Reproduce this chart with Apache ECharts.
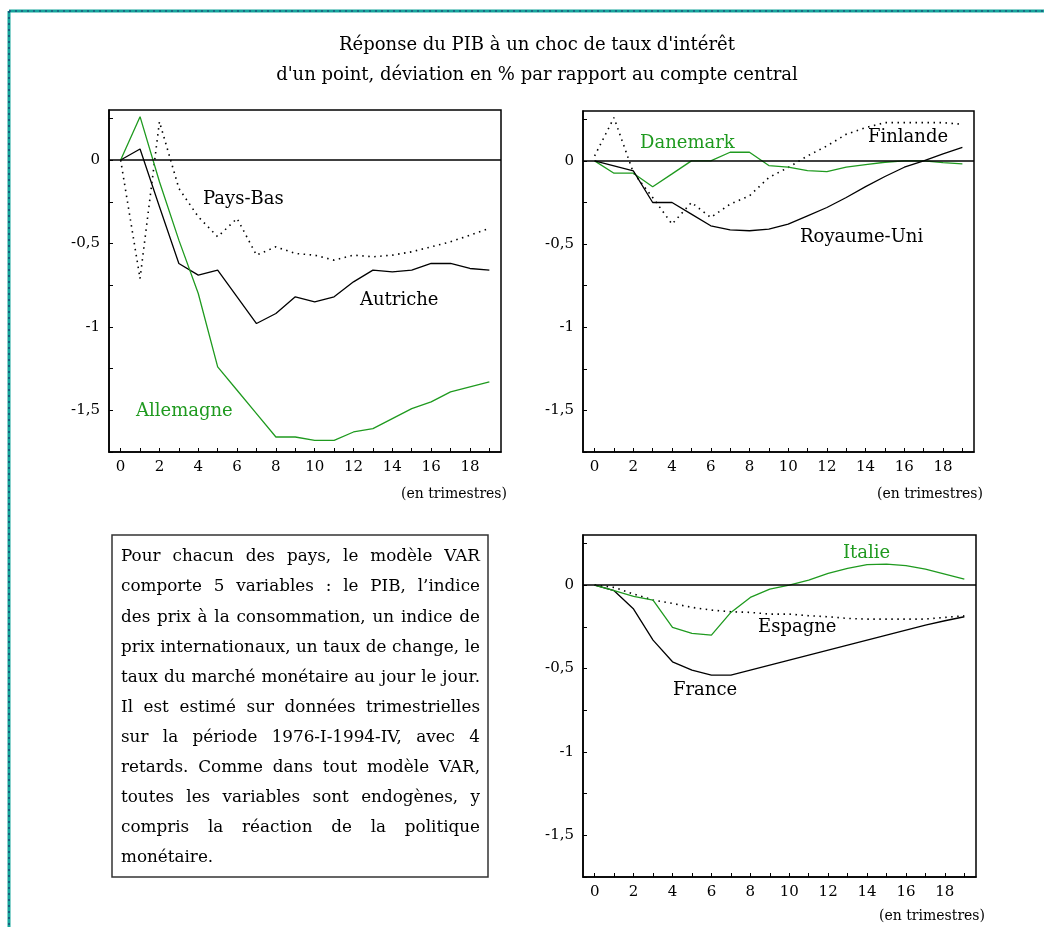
<!DOCTYPE html>
<html>
<head>
<meta charset="utf-8">
<title>Réponse du PIB à un choc de taux d'intérêt</title>
<script src="https://cdn.jsdelivr.net/npm/echarts@6/dist/echarts.min.js"></script>
<style>
html,body{margin:0;padding:0;background:#fff;}
#main{width:1044px;height:927px;}
</style>
</head>
<body>
<div id="main"></div>
<script>
// quarters after the shock (en trimestres)
var quarters = [0,1,2,3,4,5,6,7,8,9,10,11,12,13,14,15,16,17,18,19];

// top left panel
var allemagne = [0, 0.26, -0.13, -0.48, -0.8, -1.24, -1.38, -1.52, -1.66, -1.66, -1.68, -1.68, -1.63, -1.61, -1.55, -1.49, -1.45, -1.39, -1.36, -1.33];
var autriche = [0, 0.066, -0.28, -0.62, -0.69, -0.66, -0.82, -0.98, -0.92, -0.82, -0.85, -0.82, -0.73, -0.66, -0.67, -0.66, -0.62, -0.62, -0.65, -0.66];
var paysBas = [0, -0.71, 0.23, -0.17, -0.34, -0.46, -0.35, -0.57, -0.52, -0.56, -0.57, -0.6, -0.57, -0.58, -0.57, -0.55, -0.52, -0.49, -0.45, -0.41];

// top right panel
var royaumeUni = [0, -0.03, -0.06, -0.25, -0.25, -0.32, -0.39, -0.415, -0.42, -0.41, -0.38, -0.33, -0.28, -0.22, -0.155, -0.094, -0.038, 0, 0.042, 0.082];
var danemark = [0, -0.074, -0.074, -0.155, -0.078, 0, 0, 0.052, 0.052, -0.028, -0.038, -0.058, -0.064, -0.038, -0.022, -0.008, 0, 0, -0.01, -0.018];
var finlande = [0.03, 0.26, -0.07, -0.22, -0.38, -0.25, -0.34, -0.26, -0.21, -0.1, -0.04, 0.03, 0.09, 0.16, 0.2, 0.23, 0.23, 0.23, 0.23, 0.22];

// bottom right panel
var france = [0, -0.034, -0.144, -0.33, -0.46, -0.51, -0.54, -0.54, -0.51, -0.48, -0.45, -0.42, -0.39, -0.36, -0.33, -0.3, -0.27, -0.24, -0.214, -0.19];
var italie = [0, -0.034, -0.068, -0.09, -0.254, -0.29, -0.3, -0.164, -0.074, -0.024, 0, 0.03, 0.07, 0.1, 0.122, 0.126, 0.116, 0.096, 0.066, 0.036];
var espagne = [0, -0.014, -0.054, -0.09, -0.11, -0.134, -0.15, -0.16, -0.164, -0.174, -0.174, -0.184, -0.19, -0.2, -0.204, -0.204, -0.204, -0.204, -0.194, -0.184];

// ticks and labels
var xTickValues = quarters;
var xLabelValues = [0,2,4,6,8,10,12,14,16,18];
var yTickValues = [-1.75,-1.5,-1.25,-1,-0.75,-0.5,-0.25,0,0.25];
var yLabelValues = [-1.5,-1,-0.5,0];

var titleLines = [
	"Réponse du PIB à un choc de taux d'intérêt",
	"d'un point, déviation en % par rapport au compte central"
];
var noteLines = [
	"Pour chacun des pays, le modèle VAR",
	"comporte 5 variables : le PIB, l’indice",
	"des prix à la consommation, un indice de",
	"prix internationaux, un taux de change, le",
	"taux du marché monétaire au jour le jour.",
	"Il est estimé sur données trimestrielles",
	"sur la période 1976-I-1994-IV, avec 4",
	"retards. Comme dans tout modèle VAR,",
	"toutes les variables sont endogènes, y",
	"compris la réaction de la politique",
	"monétaire."
];

var green = '#1f9a1f';
var serif = '"DejaVu Serif", serif';

var chart = echarts.init(document.getElementById('main'));

function pairs(values){
	return quarters.map(function(q, i){
		return [q, values[i]];
	});
}

function commaLabel(v){
	return String(v).replace('.', ',');
}

function lineSeries(name, values, idx, color, dotted, zeroLine){
	var s = {
		name: name,
		type: 'line',
		xAxisIndex: idx,
		yAxisIndex: idx,
		data: pairs(values),
		symbol: 'none',
		silent: true,
		lineStyle: {color: color, width: dotted ? 1.6 : 1.3, type: dotted ? [1.5, 4.5] : 'solid'}
	};
	if(zeroLine){
		s.markLine = {
			silent: true,
			symbol: 'none',
			label: {show: false},
			lineStyle: {color: '#000', type: 'solid', width: 1.5},
			data: [{yAxis: 0}]
		};
	}
	return s;
}

function label(text, x, y, color){
	return {
		type: 'text', x: x, y: y, silent: true,
		style: {text: text, fill: color || '#000', font: '18px ' + serif, textVerticalAlign: 'middle'}
	};
}

// spread the words of each line so both edges line up, like the original box
function justified(lines, left, right, top, step){
	var ctx = document.createElement('canvas').getContext('2d');
	// pick the biggest size where the longest line still fits
	var size = 17;
	ctx.font = size + 'px ' + serif;
	var widest = Math.max.apply(null, lines.map(function(l){ return ctx.measureText(l).width; }));
	if(widest > right - left){
		size = Math.floor(size * (right - left) / widest * 10) / 10;
	}
	var font = size + 'px ' + serif;
	ctx.font = font;
	var out = [];
	lines.forEach(function(line, li){
		var words = line.split(' ');
		var widths = words.map(function(w){ return ctx.measureText(w).width; });
		var used = widths.reduce(function(a, b){ return a + b; }, 0);
		var gap = ctx.measureText(' ').width;
		if(li < lines.length - 1 && words.length > 1){
			gap = (right - left - used) / (words.length - 1);
		}
		var x = left;
		words.forEach(function(w, wi){
			out.push({
				type: 'text', x: x, y: top + li * step, silent: true,
				style: {text: w, fill: '#000', font: font, textVerticalAlign: 'middle'}
			});
			x += widths[wi] + gap;
		});
	});
	return out;
}

var grids = [
	{left: 109, top: 110, width: 392, height: 342},
	{left: 583, top: 111, width: 391, height: 341},
	{left: 583, top: 535, width: 393, height: 342}
];

var xAxes = [], yAxes = [];
grids.forEach(function(g, i){
	g.show = true;
	g.borderColor = '#000';
	g.borderWidth = 1.5;
	xAxes.push({
		gridIndex: i, type: 'value', min: -0.6, max: 19.6,
		axisLine: {onZero: false, lineStyle: {color: '#000', width: 1.5}},
		axisTick: {inside: true, length: 4, customValues: xTickValues, lineStyle: {color: '#000'}},
		axisLabel: {customValues: xLabelValues, color: '#000', fontFamily: serif, fontSize: 15, margin: 8},
		splitLine: {show: false}
	});
	yAxes.push({
		gridIndex: i, type: 'value', min: -1.75, max: 0.3,
		axisLine: {show: true, onZero: false, lineStyle: {color: '#000', width: 1.5}},
		axisTick: {show: true, inside: true, length: 4, customValues: yTickValues, lineStyle: {color: '#000'}},
		axisLabel: {customValues: yLabelValues, formatter: commaLabel, color: '#000', fontFamily: serif, fontSize: 15, margin: 9},
		splitLine: {show: false}
	});
});

var graphics = [
	// teal dotted frame
	{type: 'line', silent: true, shape: {x1: 9, y1: 11, x2: 1044, y2: 11}, style: {stroke: '#15a59c', lineWidth: 3}},
	{type: 'line', silent: true, shape: {x1: 9, y1: 11, x2: 9, y2: 927}, style: {stroke: '#15a59c', lineWidth: 3}},
	{type: 'line', silent: true, shape: {x1: 9, y1: 11, x2: 1044, y2: 11}, style: {stroke: '#1d2f6a', lineWidth: 1.2, lineDash: [2, 4]}},
	{type: 'line', silent: true, shape: {x1: 9, y1: 11, x2: 9, y2: 927}, style: {stroke: '#1d2f6a', lineWidth: 1.2, lineDash: [2, 4]}},
	// title
	{type: 'text', x: 537, y: 45, silent: true, style: {text: titleLines[0], fill: '#000', font: '18px ' + serif, textAlign: 'center', textVerticalAlign: 'middle'}},
	{type: 'text', x: 537, y: 75, silent: true, style: {text: titleLines[1], fill: '#000', font: '18px ' + serif, textAlign: 'center', textVerticalAlign: 'middle'}},
	// curve names
	label('Pays-Bas', 203, 199),
	label('Autriche', 360, 300),
	label('Allemagne', 136, 411, green),
	label('Danemark', 640, 143, green),
	label('Finlande', 868, 137),
	label('Royaume-Uni', 800, 237),
	label('Italie', 843, 553, green),
	label('Espagne', 758, 627),
	label('France', 673, 690),
	// time unit
	{type: 'text', x: 507, y: 494, silent: true, style: {text: '(en trimestres)', fill: '#000', font: '14px ' + serif, textAlign: 'right', textVerticalAlign: 'middle'}},
	{type: 'text', x: 983, y: 494, silent: true, style: {text: '(en trimestres)', fill: '#000', font: '14px ' + serif, textAlign: 'right', textVerticalAlign: 'middle'}},
	{type: 'text', x: 985, y: 916, silent: true, style: {text: '(en trimestres)', fill: '#000', font: '14px ' + serif, textAlign: 'right', textVerticalAlign: 'middle'}},
	// note box
	{type: 'rect', silent: true, shape: {x: 112, y: 535, width: 376, height: 342}, style: {fill: '#fff', stroke: '#333', lineWidth: 1.5}}
].concat(justified(noteLines, 121, 480, 557, 30.1));

var option = {
	animation: false,
	backgroundColor: '#fff',
	grid: grids,
	xAxis: xAxes,
	yAxis: yAxes,
	series: [
		lineSeries('Pays-Bas', paysBas, 0, '#000', true, true),
		lineSeries('Autriche', autriche, 0, '#000', false),
		lineSeries('Allemagne', allemagne, 0, green, false),
		lineSeries('Finlande', finlande, 1, '#000', true, true),
		lineSeries('Danemark', danemark, 1, green, false),
		lineSeries('Royaume-Uni', royaumeUni, 1, '#000', false),
		lineSeries('Espagne', espagne, 2, '#000', true, true),
		lineSeries('France', france, 2, '#000', false),
		lineSeries('Italie', italie, 2, green, false)
	],
	graphic: graphics
};

chart.setOption(option);
</script>
</body>
</html>
